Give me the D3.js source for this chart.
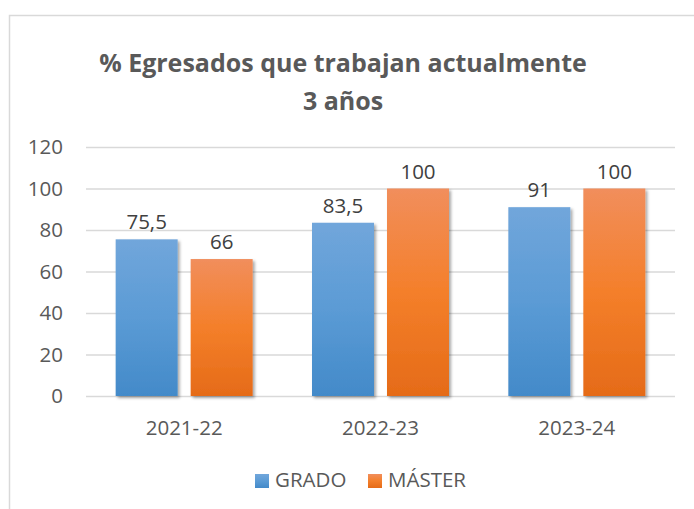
<!DOCTYPE html>
<html>
<head>
<meta charset="utf-8">
<script src="https://cdn.jsdelivr.net/npm/d3@7"></script>
<style>
  body { margin: 0; background: #fff; }
  text { font-family: "Open Sans", "Liberation Sans", sans-serif; }
</style>
</head>
<body>
<div id="chart"></div>
<script>
// data
var categories = ["2021-22", "2022-23", "2023-24"];
var series = ["GRADO", "MÁSTER"];
var grado = [75.5, 83.5, 91];
var master = [66, 100, 100];
var yTicks = [0, 20, 40, 60, 80, 100, 120];
var titleLines = ["% Egresados que trabajan actualmente", "3 años"];

var W = 694, H = 509;
var plot = { left: 86, right: 675, top: 147, bottom: 396 };

var svg = d3.select("#chart").append("svg")
    .attr("width", W).attr("height", H);

var defs = svg.append("defs");

// excel style gradients
function grad(id, top, mid, bot) {
  var g = defs.append("linearGradient").attr("id", id)
      .attr("x1", 0).attr("y1", 0).attr("x2", 0).attr("y2", 1);
  g.append("stop").attr("offset", "0%").attr("stop-color", top);
  g.append("stop").attr("offset", "50%").attr("stop-color", mid);
  g.append("stop").attr("offset", "100%").attr("stop-color", bot);
}
grad("g_grado", "#71a6db", "#5b9bd5", "#438ac9");
grad("g_master", "#f18e5c", "#f47f2a", "#e56b18");

var shadow = defs.append("filter").attr("id", "shadow")
    .attr("x", "-20%").attr("y", "-20%").attr("width", "150%").attr("height", "150%");
shadow.append("feDropShadow").attr("dx", 2).attr("dy", 2)
    .attr("stdDeviation", 1.5).attr("flood-color", "#000").attr("flood-opacity", 0.35);

// chart frame (only top & left visible in the crop)
svg.append("rect")
    .attr("x", 9.5).attr("y", 15.5)
    .attr("width", 720).attr("height", 540)
    .attr("fill", "none").attr("stroke", "#d9d9d9").attr("stroke-width", 1.5);

// title
svg.append("g").selectAll("text")
  .data(titleLines)
  .enter().append("text")
    .attr("x", 343)
    .attr("y", function(d, i) { return 72 + i * 38; })
    .attr("text-anchor", "middle")
    .attr("font-size", 25)
    .attr("font-weight", "bold")
    .attr("fill", "#595959")
    .text(function(d) { return d; });

var y = d3.scaleLinear().domain([0, 120]).range([plot.bottom, plot.top]);

var x0 = d3.scaleBand().domain(categories)
    .range([plot.left, plot.right]).paddingInner(0).paddingOuter(0);

var x1 = d3.scaleBand().domain(series)
    .range([0, x0.bandwidth()]).paddingInner(0.1733).paddingOuter(0.3956);

var colors = { "GRADO": "url(#g_grado)", "MÁSTER": "url(#g_master)" };

// gridlines + y axis
var yAxis = svg.append("g")
    .attr("transform", "translate(" + plot.left + ",0)")
    .call(d3.axisLeft(y).tickValues(yTicks)
      .tickSize(-(plot.right - plot.left)).tickPadding(23));
yAxis.select(".domain").remove();
yAxis.selectAll(".tick line").attr("stroke", "#d9d9d9").attr("stroke-width", 1.5);
yAxis.selectAll(".tick text")
    .attr("font-size", 20.5).attr("fill", "#595959")
    .attr("font-family", "'Open Sans', sans-serif");

// x axis labels
svg.append("g").selectAll("text")
  .data(categories)
  .enter().append("text")
    .attr("x", function(d) { return x0(d) + x0.bandwidth() / 2; })
    .attr("y", 435)
    .attr("text-anchor", "middle")
    .attr("font-size", 20.5)
    .attr("fill", "#595959")
    .text(function(d) { return d; });

// bars
var rows = categories.map(function(c, i) {
  return { cat: c, vals: [{ s: "GRADO", v: grado[i] }, { s: "MÁSTER", v: master[i] }] };
});

var groups = svg.append("g").selectAll("g")
  .data(rows)
  .enter().append("g")
    .attr("transform", function(d) { return "translate(" + x0(d.cat) + ",0)"; });

groups.selectAll("rect")
  .data(function(d) { return d.vals; })
  .enter().append("rect")
    .attr("x", function(d) { return x1(d.s); })
    .attr("y", function(d) { return y(d.v); })
    .attr("width", x1.bandwidth())
    .attr("height", function(d) { return y(0) - y(d.v); })
    .attr("fill", function(d) { return colors[d.s]; })
    .attr("filter", "url(#shadow)");

groups.selectAll("text")
  .data(function(d) { return d.vals; })
  .enter().append("text")
    .attr("x", function(d) { return x1(d.s) + x1.bandwidth() / 2; })
    .attr("y", function(d) { return y(d.v) - 10; })
    .attr("text-anchor", "middle")
    .attr("font-size", 20.5)
    .attr("fill", "#404040")
    .text(function(d) { return String(d.v).replace(".", ","); });

// legend
var legendX = [255, 368];
var legend = svg.append("g").selectAll("g")
  .data(series)
  .enter().append("g")
    .attr("transform", function(d, i) { return "translate(" + legendX[i] + ",474)"; });
legend.append("rect")
    .attr("width", 14).attr("height", 14)
    .attr("fill", function(d) { return colors[d]; });
legend.append("text")
    .attr("x", 20).attr("y", 13)
    .attr("font-size", 20.5)
    .attr("fill", "#595959")
    .text(function(d) { return d; });
</script>
</body>
</html>
